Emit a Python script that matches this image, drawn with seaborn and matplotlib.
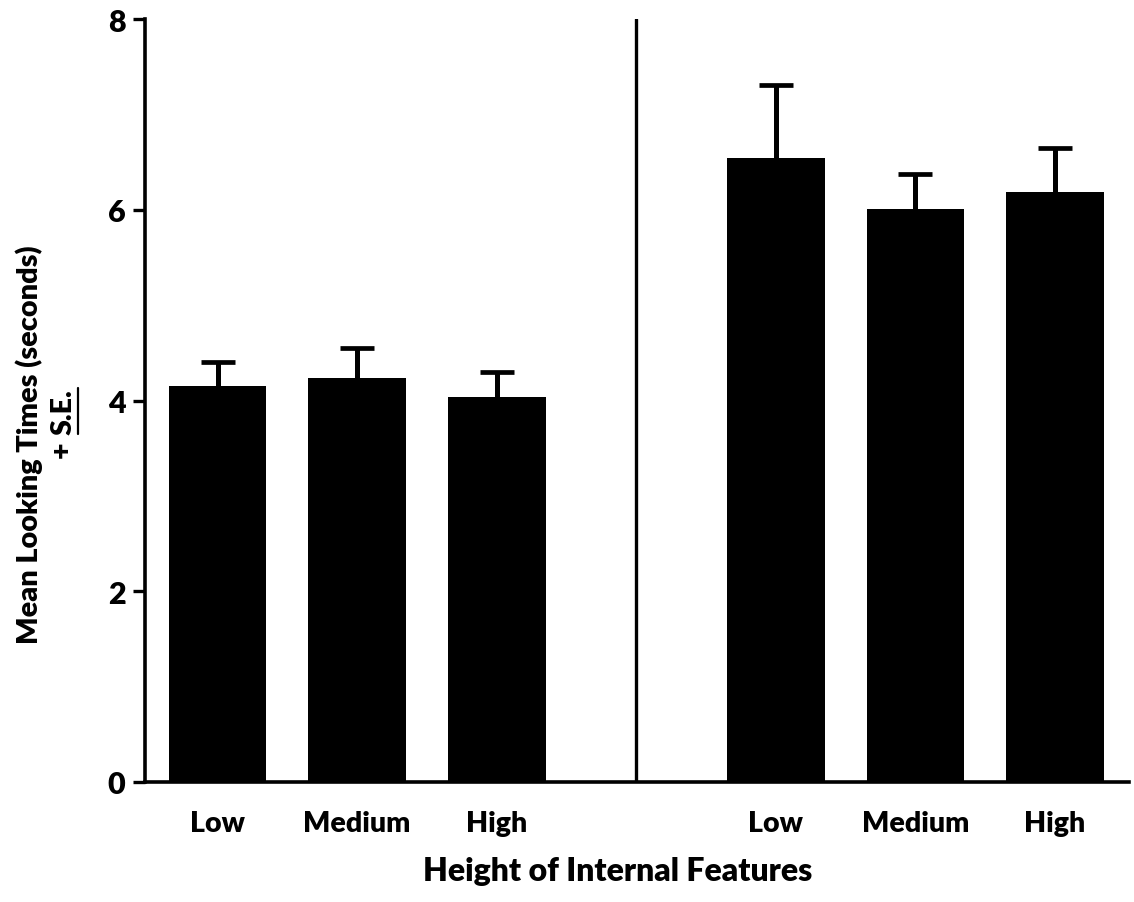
import matplotlib
matplotlib.use("Agg")
import matplotlib.pyplot as plt
from matplotlib.lines import Line2D
import numpy as np
import pandas as pd
import seaborn as sns

# Mean looking times (s) and standard errors for the two display conditions
levels = ["Low", "Medium", "High"]
group_a_mean = [4.15, 4.24, 4.04]
group_a_se = [0.25, 0.31, 0.26]
group_b_mean = [6.54, 6.01, 6.19]
group_b_se = [0.77, 0.37, 0.46]
y_ticks = [0, 2, 4, 6, 8]

sns.set_theme(style="white")
plt.rcParams["font.family"] = ["Lato", "DejaVu Sans"]
plt.rcParams["font.weight"] = "bold"

rows = []
for g, (means, ses) in enumerate([(group_a_mean, group_a_se), (group_b_mean, group_b_se)]):
    for i, lvl in enumerate(levels):
        rows.append({"group": g, "level": lvl, "pos": g * (len(levels) + 1) + i,
                     "mean": means[i], "se": ses[i]})
df = pd.DataFrame(rows)

fig = plt.figure(figsize=(11.34, 9.03), dpi=100)
ax = fig.add_axes([145 / 1134, 1 - 783 / 903, 984 / 1134, 763 / 903])

sns.barplot(data=df, x="pos", y="mean", native_scale=True, width=0.70,
            color="black", saturation=1, linewidth=0, errorbar=None, ax=ax,
            zorder=2)

# upper-only standard error bars (lower caps hidden)
eb = ax.errorbar(df["pos"], df["mean"], yerr=[np.zeros(len(df)), df["se"]],
                 fmt="none", ecolor="black", elinewidth=3.6, capsize=12,
                 capthick=3.4, zorder=1)
eb.lines[1][0].set_visible(False)

# divider between the two conditions
ax.axvline(len(levels), ymin=0, ymax=1, color="black", lw=2.4, zorder=3)

ax.set_xlim(-0.52, 6.53)
ax.set_ylim(0, 8)
ax.set_yticks(y_ticks)
ax.set_yticklabels([str(t) for t in y_ticks])
ax.set_xticks(df["pos"])
ax.set_xticklabels(df["level"])

for side in ["top", "right"]:
    ax.spines[side].set_visible(False)
for side in ["left", "bottom"]:
    ax.spines[side].set_linewidth(2.6)
    ax.spines[side].set_color("black")

ax.tick_params(axis="y", length=9, width=2.4, pad=5, labelsize=22, left=True,
               colors="black")
ax.tick_params(axis="x", length=0, pad=20, labelsize=20.5, colors="black")
for lab in ax.get_xticklabels() + ax.get_yticklabels():
    lab.set_fontweight("heavy")

ax.set_xlabel("Height of Internal Features", fontsize=23, fontweight="heavy",
              color="black")
ax.xaxis.set_label_coords(0.48, -0.097)
ax.set_ylabel("Mean Looking Times (seconds)", fontsize=20.8, fontweight="heavy",
              color="black")
ax.yaxis.set_label_coords(-0.1037, (783 - 445) / 763)

# second line of the y label: "+ S.E." with S.E. underlined
se_txt = fig.text(64 / 1134, 1 - 412 / 903, "S.E.", rotation=90, ha="center",
                  va="center", fontsize=20.5, fontweight="heavy", color="black")
fig.text(62 / 1134, 1 - 450 / 903, "+", rotation=90, ha="center", va="center",
         fontsize=20.5, fontweight="heavy", color="black")
fig.canvas.draw()
bb = se_txt.get_window_extent()
W, H = fig.bbox.width, fig.bbox.height
fig.add_artist(Line2D([(bb.x1 + 1) / W] * 2, [bb.y0 / H, bb.y1 / H],
                      transform=fig.transFigure, color="black", lw=1.6))

fig.savefig("out.png", dpi=100)
